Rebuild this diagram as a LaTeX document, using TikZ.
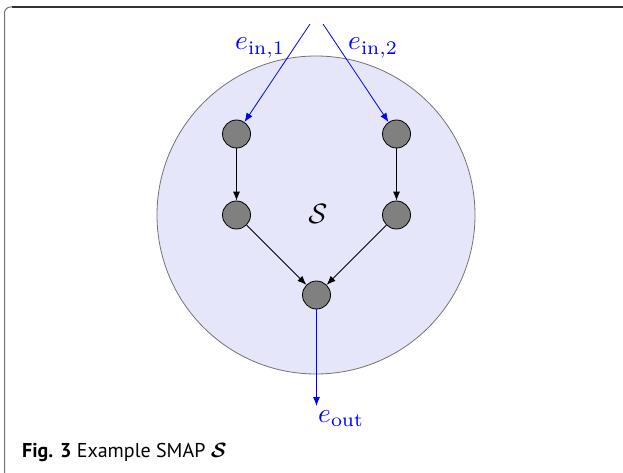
\documentclass[tikz,border=0pt]{standalone}
\usepackage{fontspec}
\usepackage{graphicx}
\setsansfont{PT Sans}
\usetikzlibrary{arrows.meta}
\definecolor{lav}{RGB}{230,230,250}
\definecolor{nodegray}{RGB}{128,128,128}
\begin{document}
\begin{tikzpicture}[x=1pt,y=-1pt,
  vert/.style={circle,draw=black,fill=nodegray,minimum size=28pt,inner sep=0pt,line width=0.8pt},
  blk/.style={draw=black,line width=0.8pt,-{Latex[length=9pt,width=7pt]}},
  blu/.style={draw=blue,line width=0.8pt,-{Latex[length=9pt,width=7pt]}},
  lab/.style={text=blue,inner sep=0pt}]
\useasboundingbox (0,0) rectangle (623,473);
\fill[white] (0,0) rectangle (623,473);
% frame
\draw[line width=1pt,draw=black!55] (4.5,473) -- (4.5,13) arc[start angle=180,end angle=270,radius=6] -- (623,7);
\draw[line width=1.3pt,draw=black!80] (12,7) -- (623,7);
% big circle
\node[circle,draw=black!55,fill=lav,line width=0.8pt,minimum size=318pt,inner sep=0pt] (S) at (316,215) {};
\node[inner sep=0pt] (Slab) at (318,214) {\scalebox{2.8}{$\mathcal{S}$}};
% vertices
\node[vert] (a) at (236.5,134) {};
\node[vert] (b) at (396.5,134) {};
\node[vert] (c) at (236.5,215) {};
\node[vert] (d) at (396.5,215) {};
\node[vert] (e) at (316.5,295) {};
\coordinate (in1) at (310,24);
\coordinate (in2) at (323,24);
\coordinate (out) at (316.5,406);
\draw[blu] (in1) -- (a);
\draw[blu] (in2) -- (b);
\draw[blk] (a) -- (c);
\draw[blk] (b) -- (d);
\draw[blk] (c) -- (e);
\draw[blk] (d) -- (e);
\draw[blu] (e) -- (out);
\node[lab,anchor=base west] (l1) at (235,50) {\scalebox{2.75}{$e_{\mathrm{in},1}$}};
\node[lab,anchor=base west] (l2) at (348,50) {\scalebox{2.75}{$e_{\mathrm{in},2}$}};
\node[lab,anchor=base west] (l3) at (318,422) {\scalebox{2.75}{$e_{\mathrm{out}}$}};
% caption
\node[anchor=base west,inner sep=0pt,font=\sffamily\fontsize{20}{24}\selectfont] (cap) at (22,457) {\textbf{Fig. 3} Example SMAP {\boldmath$\mathcal{S}$}};
\end{tikzpicture}
\end{document}
